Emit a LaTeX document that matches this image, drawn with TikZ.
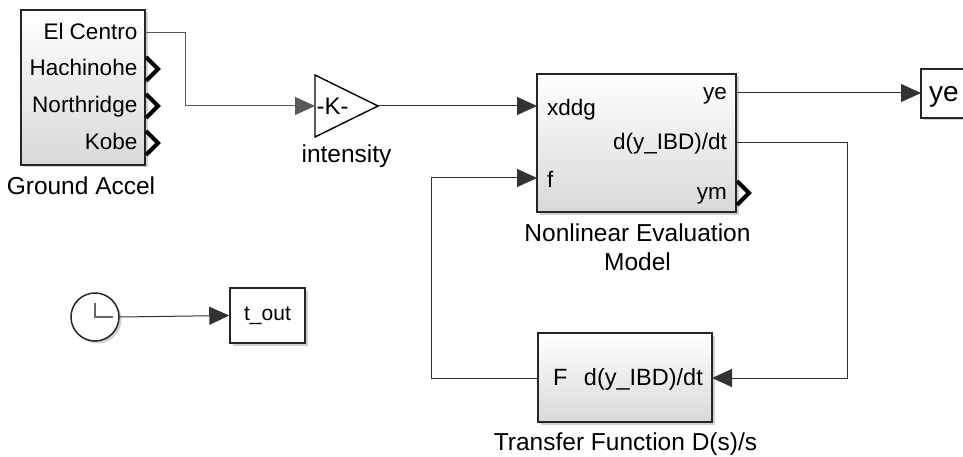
\documentclass[tikz,border=0pt]{standalone}
\usepackage{fontspec}
\setmainfont{Liberation Sans}
\usetikzlibrary{arrows.meta,shadows}
\newcommand{\fs}[1]{\fontsize{#1}{#1}\selectfont}
\begin{document}
\begin{tikzpicture}[x=1pt,y=-1pt,
  shade/.style={drop shadow={shadow xshift=2.5pt,shadow yshift=-2.5pt,fill=black!30,opacity=0.6}},
  blk/.style={draw=black!85,line width=1.5pt,top color=white,bottom color=black!15,shade,inner sep=0pt},
  obox/.style={draw=black!85,line width=1.5pt,fill=white,shade,inner sep=0pt},
  plabel/.style={inner sep=0pt,font=\fs{22.5}},
  blabel/.style={inner sep=0pt,anchor=base,font=\fs{24.5}},
  wire/.style={draw=black!80,line width=1pt},
  arr/.style={wire,-{Triangle[length=20pt,width=18pt]}},
  chev/.style={line width=4pt,line join=miter,black}]
\useasboundingbox (0,0) rectangle (963,457);
\clip (0,0) rectangle (963,457);

% Ground acceleration source
\node[blk,minimum width=124pt,minimum height=155pt] (ga) at (83,87.5) {};
\node[plabel,anchor=base east] (ga1) at (137.5,39.3) {El Centro};
\node[plabel,anchor=base east] (ga2) at (137.5,76) {Hachinohe};
\node[plabel,anchor=base east] (ga3) at (137.5,113) {Northridge};
\node[plabel,anchor=base east] (ga4) at (137.5,150) {Kobe};
\node[blabel] (galab) at (81,195) {Ground Accel};
\coordinate (ga-o1) at (145,33);
\coordinate (ga-bend) at (185,33);
\foreach \yy in {69,106,143}
  \draw[chev] (146,\yy-12) -- (158,\yy) -- (146,\yy+12);

% Gain block
\coordinate (k-in) at (315,106);
\coordinate (k-out) at (378,106);
\draw[line width=1.4pt,fill=white] (315,75) -- (378,106) -- (315,137) -- cycle;
\node[blabel,font=\fs{24}] (klab) at (332.5,115) {-K-};
\node[blabel] (intens) at (346.5,163) {intensity};

% Nonlinear evaluation model
\node[blk,minimum width=199pt,minimum height=138pt] (nl) at (636.5,143) {};
\coordinate (nl-xddg) at (537,106);
\coordinate (nl-f) at (537,178);
\coordinate (nl-ye) at (736,93);
\coordinate (nl-dy) at (736,143);
\node[plabel,anchor=base west] (nlx) at (547,116) {xddg};
\node[plabel,anchor=base west] (nlf) at (547,188) {f};
\node[plabel,anchor=base east] (nlye) at (727,100) {ye};
\node[plabel,anchor=base east] (nldy) at (727,150) {d(y\_IBD)/dt};
\node[plabel,anchor=base east] (nlym) at (727,200) {ym};
\draw[chev] (737,181) -- (749,193) -- (737,205);
\node[blabel] (nllab1) at (637.5,241.7) {Nonlinear Evaluation};
\node[blabel] (nllab2) at (637.5,270) {Model};

% Output port ye
\node[obox,minimum width=60pt,minimum height=49pt] (yeout) at (951,93.5) {};
\node[inner sep=0pt,anchor=base west,font=\fs{28}] (yetxt) at (929,101.7) {ye};
\coordinate (yeout-in) at (921,93);

% Transfer function block
\node[blk,minimum width=174pt,minimum height=89pt] (tf) at (625,377.5) {};
\coordinate (tf-F) at (538,378);
\coordinate (tf-dy) at (712,378);
\node[plabel,anchor=base west,font=\fs{23.5}] (tfF) at (553,385) {F};
\node[plabel,anchor=base east,font=\fs{23.5}] (tfdy) at (703,385) {d(y\_IBD)/dt};
\node[blabel] (tflab) at (625.5,450.7) {Transfer Function D(s)/s};

% Clock and time output
\node[draw=black!85,line width=1.5pt,fill=white,circle,minimum size=48pt,inner sep=0pt,shade] (clk) at (95,317) {};
\draw[black!60,line width=1.1pt] (95,303) -- (95,317) -- (113,317);
\node[obox,minimum width=75pt,minimum height=55pt] (tout) at (267.5,315.5) {};
\node[inner sep=0pt,font=\fs{21}] (touttxt) at (267.5,316) {t\_out};

% Signal lines
\draw[arr,draw=black!65] (ga-o1) -- (ga-bend) |- (k-in);
\draw[arr] (k-out) -- (nl-xddg);
\draw[arr] (nl-ye) -- (yeout-in);
\draw[arr] (nl-dy) -- (847,143) |- (tf-dy);
\draw[arr] (tf-F) -- (431,378) |- (nl-f);
\draw[arr] (clk.east) -- (tout.west);
\end{tikzpicture}
\end{document}
